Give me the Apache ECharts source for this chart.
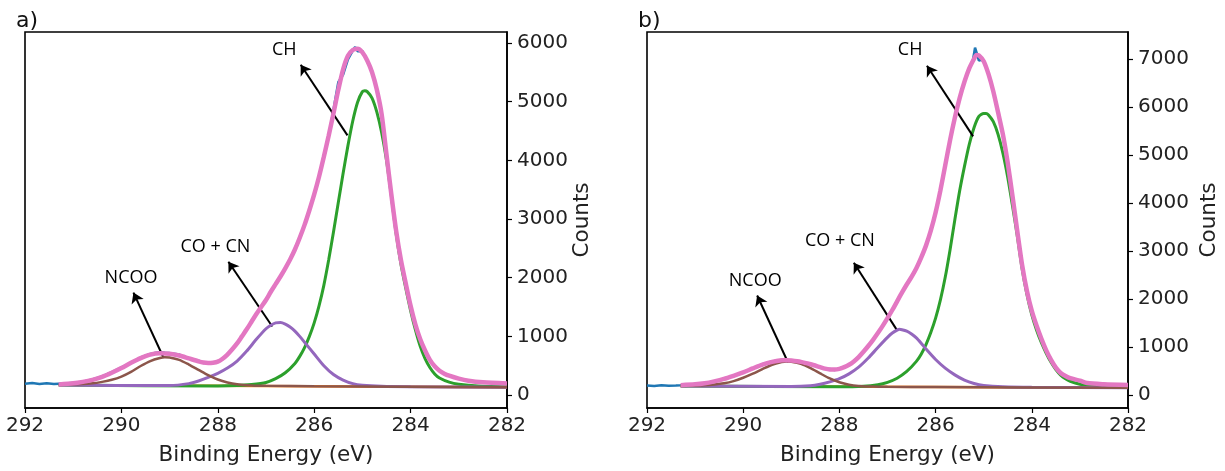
<!DOCTYPE html>
<html><head><meta charset="utf-8">
<script src="https://cdn.jsdelivr.net/npm/echarts@6/dist/echarts.min.js"></script>
<style>html,body{margin:0;padding:0;background:#fff}#c{width:1225px;height:471px}</style>
</head><body><div id="c"></div>
<script>
// ---------- data (Binding Energy eV, Counts) ----------
const xTicks = [282, 284, 286, 288, 290, 292];
const yTicksA = [0, 1000, 2000, 3000, 4000, 5000, 6000];
const yTicksB = [0, 1000, 2000, 3000, 4000, 5000, 6000, 7000];

// panel a)
const rawA = [[292.0,195],[291.85,205],[291.7,190],[291.55,200],[291.4,188],[291.3,195],[291.0,204],[290.8,228],[290.6,265],[290.4,318],[290.2,392],[290.0,470],[289.8,548],[289.6,640],[289.4,702],[289.2,735],[289.1,722],[289.0,715],[288.8,690],[288.6,618],[288.4,585],[288.3,548],[288.2,558],[288.1,545],[288.0,580],[287.9,612],[287.8,700],[287.7,775],[287.6,890],[287.5,995],[287.4,1130],[287.3,1245],[287.2,1390],[287.1,1495],[287.0,1630],[286.9,1755],[286.8,1900],[286.7,2010],[286.6,2170],[286.5,2300],[286.4,2495],[286.3,2670],[286.2,2910],[286.1,3140],[286.0,3430],[285.9,3710],[285.8,4080],[285.7,4400],[285.6,4860],[285.5,5330],[285.4,5460],[285.3,5720],[285.2,5870],[285.15,5930],[285.1,5860],[285.0,5860],[284.9,5690],[284.8,5520],[284.7,5190],[284.6,4800],[284.5,4110],[284.4,3440],[284.3,2790],[284.2,2310],[284.1,1890],[284.0,1530],[283.9,1195],[283.8,955],[283.7,755],[283.6,605],[283.5,488],[283.4,418],[283.3,362],[283.2,332],[283.0,278],[282.8,246],[282.5,216],[282.0,198]];
const bgA = [[291.3,172],[282.0,135]];
const chA = [[291.3,170],[288.0,155],[287.6,162],[287.3,180],[287.0,215],[286.8,280],[286.6,380],[286.4,540],[286.3,660],[286.2,810],[286.1,1000],[286.0,1230],[285.9,1520],[285.8,1870],[285.7,2300],[285.6,2780],[285.5,3280],[285.4,3780],[285.3,4250],[285.2,4670],[285.1,4990],[285.0,5170],[284.95,5186],[284.9,5170],[284.8,5060],[284.7,4820],[284.6,4470],[284.5,4000],[284.4,3400],[284.3,2750],[284.2,2230],[284.1,1820],[284.0,1440],[283.9,1110],[283.8,830],[283.7,620],[283.6,470],[283.5,360],[283.4,290],[283.2,220],[283.0,185],[282.6,155],[282.0,142]];
const coA = [[291.3,170],[289.0,162],[288.6,195],[288.4,240],[288.2,300],[288.0,370],[287.8,460],[287.6,580],[287.4,750],[287.2,950],[287.0,1130],[286.9,1190],[286.8,1230],[286.7,1237],[286.6,1210],[286.5,1160],[286.4,1090],[286.3,1000],[286.2,900],[286.0,700],[285.8,500],[285.6,350],[285.4,255],[285.2,195],[285.0,168],[284.6,150],[284.0,143],[282.0,135]];
const ncooA = [[291.3,172],[290.9,185],[290.6,200],[290.4,225],[290.2,260],[290.0,315],[289.8,395],[289.6,495],[289.4,580],[289.2,632],[289.1,645],[289.0,640],[288.8,600],[288.6,520],[288.4,430],[288.2,340],[288.0,265],[287.8,215],[287.6,185],[287.3,165],[287.0,158],[286.0,150],[282.0,135]];
const envA = [[291.3,180],[291.0,200],[290.8,225],[290.6,260],[290.4,310],[290.2,380],[290.0,460],[289.8,550],[289.6,630],[289.4,690],[289.2,712],[289.0,705],[288.8,675],[288.6,625],[288.4,575],[288.3,555],[288.2,548],[288.1,552],[288.0,570],[287.9,620],[287.8,690],[287.7,780],[287.6,880],[287.5,1000],[287.4,1120],[287.3,1250],[287.2,1380],[287.1,1500],[287.0,1620],[286.9,1760],[286.8,1890],[286.7,2020],[286.6,2160],[286.5,2310],[286.4,2480],[286.3,2680],[286.2,2900],[286.1,3150],[286.0,3420],[285.9,3720],[285.8,4060],[285.7,4420],[285.6,4800],[285.5,5200],[285.4,5550],[285.3,5780],[285.2,5880],[285.1,5900],[285.0,5840],[284.9,5700],[284.8,5500],[284.7,5200],[284.6,4780],[284.5,4100],[284.4,3420],[284.3,2800],[284.2,2300],[284.1,1900],[284.0,1520],[283.9,1200],[283.8,950],[283.7,760],[283.6,600],[283.5,490],[283.4,415],[283.3,365],[283.2,330],[283.0,280],[282.8,245],[282.5,218],[282.0,198]];

// panel b)
const rawB = [[292.0,200],[291.85,190],[291.7,205],[291.55,195],[291.4,200],[291.3,205],[291.0,225],[290.8,250],[290.6,282],[290.4,342],[290.2,398],[290.0,478],[289.8,560],[289.6,640],[289.4,700],[289.2,728],[289.1,722],[289.0,725],[288.8,688],[288.6,645],[288.4,575],[288.3,548],[288.2,540],[288.1,522],[288.0,552],[287.9,585],[287.8,628],[287.7,708],[287.6,792],[287.5,905],[287.4,1015],[287.3,1155],[287.2,1285],[287.1,1445],[287.0,1598],[286.9,1775],[286.8,1955],[286.7,2125],[286.6,2315],[286.5,2475],[286.4,2645],[286.3,2865],[286.2,3120],[286.1,3410],[286.0,3810],[285.9,4255],[285.8,4810],[285.7,5290],[285.6,5780],[285.5,6170],[285.4,6530],[285.3,6790],[285.22,6990],[285.18,7230],[285.14,7100],[285.1,6960],[285.05,6980],[285.0,6940],[284.9,6690],[284.8,6310],[284.7,5890],[284.6,5410],[284.5,4840],[284.4,4120],[284.3,3410],[284.2,2690],[284.1,2170],[284.0,1745],[283.9,1445],[283.8,1165],[283.7,935],[283.6,725],[283.5,575],[283.4,462],[283.3,398],[283.2,352],[283.0,302],[282.85,250],[282.5,226],[282.0,207]];
const bgB = [[291.3,190],[282.0,150]];
const chB = [[291.3,190],[288.0,170],[287.5,182],[287.2,215],[287.0,265],[286.8,350],[286.6,490],[286.4,700],[286.3,850],[286.2,1050],[286.1,1300],[286.0,1600],[285.9,1980],[285.8,2450],[285.7,3020],[285.6,3650],[285.5,4250],[285.4,4760],[285.3,5220],[285.2,5570],[285.1,5800],[285.0,5860],[284.95,5860],[284.9,5830],[284.8,5690],[284.7,5420],[284.6,5030],[284.5,4530],[284.4,3930],[284.3,3300],[284.2,2620],[284.1,2090],[284.0,1670],[283.9,1350],[283.8,1090],[283.7,870],[283.6,680],[283.5,530],[283.4,415],[283.3,338],[283.2,287],[283.0,225],[282.8,195],[282.4,172],[282.0,160]];
const coB = [[291.3,190],[289.0,180],[288.6,195],[288.4,225],[288.2,275],[288.0,340],[287.8,440],[287.6,580],[287.4,770],[287.2,990],[287.0,1200],[286.9,1290],[286.8,1350],[286.75,1367],[286.7,1360],[286.6,1330],[286.5,1270],[286.4,1190],[286.3,1080],[286.2,960],[286.0,740],[285.8,560],[285.6,420],[285.4,310],[285.2,240],[285.0,200],[284.6,172],[284.0,160],[282.0,150]];
const ncooB = [[291.3,190],[290.8,205],[290.6,220],[290.4,245],[290.2,290],[290.0,360],[289.8,445],[289.6,540],[289.4,630],[289.2,685],[289.1,700],[289.0,695],[288.8,650],[288.6,560],[288.4,450],[288.2,345],[288.0,265],[287.8,215],[287.6,190],[287.3,175],[287.0,170],[286.0,165],[282.0,150]];
const envB = [[291.3,205],[291.0,222],[290.8,245],[290.6,285],[290.4,335],[290.2,400],[290.0,470],[289.8,555],[289.6,635],[289.4,690],[289.2,722],[289.1,725],[289.0,718],[288.8,690],[288.6,640],[288.4,580],[288.3,550],[288.2,532],[288.1,530],[288.0,545],[287.9,580],[287.8,630],[287.7,700],[287.6,790],[287.5,900],[287.4,1020],[287.3,1150],[287.2,1290],[287.1,1440],[287.0,1600],[286.9,1770],[286.8,1950],[286.7,2130],[286.6,2300],[286.5,2460],[286.4,2640],[286.3,2860],[286.2,3110],[286.1,3420],[286.0,3800],[285.9,4260],[285.8,4780],[285.7,5300],[285.6,5770],[285.5,6180],[285.4,6520],[285.3,6800],[285.2,7000],[285.15,7080],[285.1,7070],[285.0,6950],[284.9,6680],[284.8,6320],[284.7,5880],[284.6,5420],[284.5,4830],[284.4,4130],[284.3,3400],[284.2,2700],[284.1,2160],[284.0,1750],[283.9,1440],[283.8,1170],[283.7,930],[283.6,730],[283.5,570],[283.4,460],[283.3,395],[283.2,350],[283.0,300],[282.85,250],[282.5,225],[282.0,207]];

// annotations: label position, arrow tail (on curve) and arrow head (near label)
const labelsA = [{name:'CH', value:[286.62,5881]}, {name:'CO + CN', value:[288.05,2525]}, {name:'NCOO', value:[289.80,2000]}];
const arrowsA = [[[285.31,4424],[286.28,5627]], [[286.87,1169],[287.78,2271]], [[289.13,644],[289.75,1746]]];
const labelsB = [{name:'CH', value:[286.53,7186]}, {name:'CO + CN', value:[287.99,3210]}, {name:'NCOO', value:[289.75,2381]}];
const arrowsB = [[[285.22,5384],[286.18,6854]], [[286.80,1346],[287.70,2754]], [[289.07,683],[289.71,2071]]];

// ---------- chart ----------
const FONT = 'DejaVu Sans';
const chart = echarts.init(document.getElementById('c'), null, {renderer:'canvas'});

function xAxisCfg(gi) {
  return {
    type:'value', gridIndex:gi, min:282, max:292, inverse:true,
    axisLine:{show:true, onZero:false, lineStyle:{color:'#000', width:1.6}},
    axisTick:{show:true, length:5, lineStyle:{color:'#000', width:1.2}, customValues:xTicks},
    axisLabel:{color:'#222', fontSize:20, fontFamily:FONT, margin:8, customValues:xTicks},
    splitLine:{show:false},
    name:'Binding Energy (eV)', nameLocation:'middle', nameGap:36,
    nameTextStyle:{color:'#222', fontSize:21.5, fontFamily:FONT}
  };
}
function yAxisCfg(gi, min, max, ticks, gap) {
  return {
    type:'value', gridIndex:gi, position:'right', min:min, max:max,
    axisLine:{show:true, onZero:false, lineStyle:{color:'#000', width:1.6}},
    axisTick:{show:true, length:5, lineStyle:{color:'#000', width:1.2}, customValues:ticks},
    axisLabel:{color:'#222', fontSize:20, fontFamily:FONT, margin:10, customValues:ticks,
      formatter: v => String(v)},
    splitLine:{show:false},
    name:'Counts', nameLocation:'middle', nameGap:gap, nameRotate:90,
    nameTextStyle:{color:'#222', fontSize:21.5, fontFamily:FONT}
  };
}
function line(gi, data, color, width, z, smooth) {
  return {type:'line', xAxisIndex:gi, yAxisIndex:gi, data:data, symbol:'none', showSymbol:false,
    smooth:smooth, lineStyle:{color:color, width:width}, z:z, silent:true, animation:false};
}
function labelSeries(gi, labels) {
  return {
    type:'scatter', xAxisIndex:gi, yAxisIndex:gi, data:labels, symbolSize:0,
    itemStyle:{color:'#000'}, z:20, silent:true, animation:false,
    label:{show:true, position:'inside', formatter:'{b}', color:'#000', opacity:1,
      textBorderWidth:0, textBorderColor:'transparent',
      fontSize:18, fontFamily:'Open Sans'}
  };
}
function arrowSeries(gi, arrows) {
  return {
    type:'line', xAxisIndex:gi, yAxisIndex:gi, data:[], z:21, silent:true, animation:false,
    itemStyle:{color:'#000'}, lineStyle:{color:'#000'},
    markLine:{
      silent:true, animation:false, symbol:['none','arrow'], symbolSize:10,
      itemStyle:{color:'#000'},
      lineStyle:{color:'#000', width:2, type:'solid'}, label:{show:false},
      data: arrows.map(a => [{coord:a[0]}, {coord:a[1]}])
    }
  };
}

const grids = [
  {left:25, top:32, width:482, height:378, show:true, borderColor:'#000', borderWidth:1.6, backgroundColor:'transparent'},
  {left:647, top:32, width:481, height:378, show:true, borderColor:'#000', borderWidth:1.6, backgroundColor:'transparent'}
];

const series = [];
[[rawA,bgA,chA,coA,ncooA,envA,labelsA,arrowsA],[rawB,bgB,chB,coB,ncooB,envB,labelsB,arrowsB]].forEach((p, gi) => {
  series.push(line(gi, p[0], '#1f77b4', 2.5, 2, false));
  series.push(line(gi, p[1], '#ff7f0e', 2.5, 3, false));
  series.push(line(gi, p[2], '#2ca02c', 3, 4, 0.25));
  series.push(line(gi, p[3], '#9467bd', 3, 5, 0.25));
  series.push(line(gi, p[4], '#8c564b', 2.5, 6, 0.25));
  series.push(line(gi, p[5], '#e377c2', 4.5, 7, 0.25));
  series.push(labelSeries(gi, p[6]));
  series.push(arrowSeries(gi, p[7]));
});

chart.setOption({
  backgroundColor:'#fff',
  animation:false,
  grid: grids,
  xAxis: [xAxisCfg(0), xAxisCfg(1)],
  yAxis: [yAxisCfg(0, -220, 6186, yTicksA, 45), yAxisCfg(1, -270, 7557, yTicksB, 70)],
  graphic: [
    {type:'text', left:16, top:10, style:{text:'a)', fontSize:22, fontFamily:FONT, fill:'#111'}},
    {type:'text', left:638, top:10, style:{text:'b)', fontSize:22, fontFamily:FONT, fill:'#111'}}
  ],
  series: series
});
</script></body></html>
